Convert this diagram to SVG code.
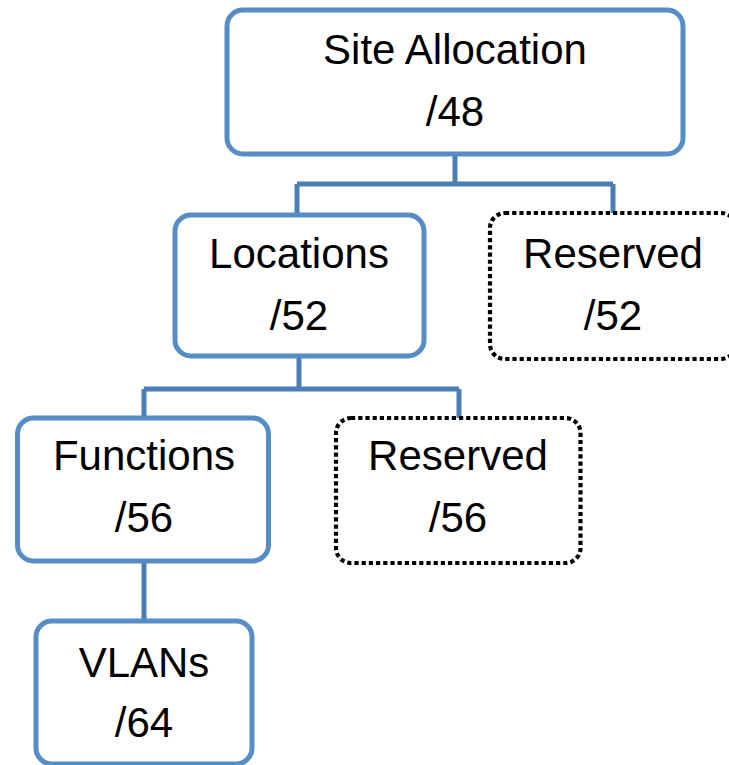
<svg xmlns="http://www.w3.org/2000/svg" width="729" height="765" viewBox="0 0 729 765">
  <style>
    .box { fill: #ffffff; stroke: #578DC6; stroke-width: 5; }
    .reserved { fill: #ffffff; stroke: #000000; stroke-width: 4.2; stroke-dasharray: 4.2 3; }
    .link { fill: none; stroke: #4A7EB5; stroke-width: 5; }
    .label { font-family: "Liberation Sans", Arial, sans-serif; font-size: 42px; fill: #000000; text-anchor: middle; }
  </style>
  <rect width="729" height="765" fill="#ffffff"/>

  <!-- tree connectors -->
  <g id="connectors">
    <path class="link" d="M455 155 V184 M297 184 H613 M297 184 V215 M613 184 V213"/>
    <path class="link" d="M299 356 V389 M144 389 H459 M144 389 V418 M459 389 V418"/>
    <path class="link" d="M144 561 V621"/>
  </g>

  <g id="site-allocation">
    <rect class="box" x="227" y="10" width="456" height="144" rx="16"/>
    <text class="label" x="455" y="64">Site Allocation</text>
    <text class="label" x="455" y="126">/48</text>
  </g>

  <g id="locations">
    <rect class="box" x="175" y="215" width="249" height="141" rx="16"/>
    <text class="label" x="299" y="268">Locations</text>
    <text class="label" x="299" y="330">/52</text>
  </g>

  <g id="reserved-52">
    <rect class="reserved" x="490" y="213" width="246" height="146" rx="15"/>
    <text class="label" x="613" y="268">Reserved</text>
    <text class="label" x="613" y="330">/52</text>
  </g>

  <g id="functions">
    <rect class="box" x="17.5" y="418" width="251" height="143" rx="16"/>
    <text class="label" x="144" y="470">Functions</text>
    <text class="label" x="144" y="532">/56</text>
  </g>

  <g id="reserved-56">
    <rect class="reserved" x="336" y="418" width="244.5" height="145" rx="15"/>
    <text class="label" x="458" y="470">Reserved</text>
    <text class="label" x="458" y="532">/56</text>
  </g>

  <g id="vlans">
    <rect class="box" x="36" y="621" width="216" height="143" rx="16"/>
    <text class="label" x="144" y="677">VLANs</text>
    <text class="label" x="144" y="737">/64</text>
  </g>
</svg>
